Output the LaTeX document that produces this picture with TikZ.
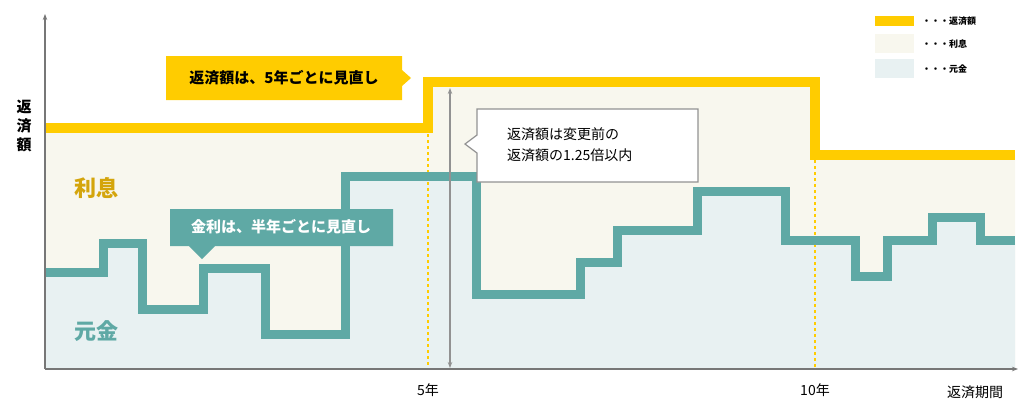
\documentclass[tikz,border=0pt]{standalone}
\usepackage{fontspec}
\newfontfamily\jp{Noto Sans CJK JP}
\usetikzlibrary{arrows.meta, positioning, calc}
\definecolor{payY}{HTML}{FFCC00}
\definecolor{rateT}{HTML}{5FA9A5}
\definecolor{intC}{HTML}{F8F7EE}
\definecolor{prinB}{HTML}{E8F1F2}
\definecolor{intTxt}{HTML}{D4A50C}
\definecolor{axisG}{HTML}{777777}
\tikzset{
    axis/.style={draw=axisG, line width=1.6pt},
    payline/.style={draw=payY, line width=10pt},
    rateline/.style={draw=rateT, line width=9pt},
    guide/.style={draw=payY, dashed, line width=1.2pt},
    lbl/.style={font=\jp\bfseries, inner sep=0pt},
}

\begin{document}
\begin{tikzpicture}[x=1pt, y=-1pt]
    \useasboundingbox (0,0) rectangle (1032,416);

    \coordinate (o) at (45,369);
    \coordinate (ytop) at (45,14);
    \coordinate (xend) at (1018,369);

    % areas
    \fill[intC] (45,128) -| (428,82) -| (815,155) -| (1015,369) -- (o) -- cycle;
    \fill[prinB] (45,272) -| (103,243) -| (142,309) -| (203,268) -| (265,334)
        -| (345,176) -| (476,294) -| (580,262) -| (617,230) -| (697,191)
        -| (785,240) -| (855,276) -| (887,240) -| (932,217) -| (980,240)
        -- (1015,240) -- (1015,369) -- (o) -- cycle;

    % guides
    \coordinate (g5) at (428,369);
    \coordinate (g10) at (815,369);
    \draw[guide] (428,86) -- (g5);
    \draw[guide] (815,160) -- (g10);

    % step lines
    \draw[rateline] (45,272) -| (103,243) -| (142,309) -| (203,268) -| (265,334)
        -| (345,176) -| (476,294) -| (580,262) -| (617,230) -| (697,191)
        -| (785,240) -| (855,276) -| (887,240) -| (932,217) -| (980,240)
        -- (1015,240);
    \draw[payline] (45,128) -| (428,82) -| (815,155) -- (1015,155);

    % axes
    \draw[axis, -{Stealth[length=6pt]}] (o) -- (ytop);
    \draw[axis, -{Stealth[length=6pt]}] (o) -- (xend);

    % change range
    \coordinate (up) at (450,88);
    \coordinate (dn) at (450,368);
    \draw[draw=axisG!80, line width=1.2pt, {Stealth[length=6pt]}-{Stealth[length=6pt]}] (dn) -- (up);

    % callouts
    \fill[payY] (166,56) -- (402,56) -- (402,70) -- (411,78) -- (402,86) -- (402,100) -- (166,100) -- cycle;
    \node[lbl, font=\jp\bfseries\fontsize{15}{15}\selectfont] (c5) at (284,78) {返済額は、5年ごとに見直し};

    \filldraw[fill=white, draw=axisG!80, line width=1.2pt] (477,109) -- (698,109) -- (698,182) -- (477,182)
        -- (477,153) -- (465,144) -- (477,135) -- cycle;
    \node[lbl, font=\jp\fontsize{14}{21}\selectfont, align=left, anchor=west] (c125) at (507,145)
        {返済額は変更前の\\返済額の1.25倍以内};

    \fill[rateT] (170,209) -- (393,209) -- (393,246) -- (215,246) -- (202,259) -- (189,246) -- (170,246) -- cycle;
    \node[lbl, white, font=\jp\bfseries\fontsize{15}{15}\selectfont] (chalf) at (281,227) {金利は、半年ごとに見直し};

    % labels
    \node[lbl, intTxt, font=\jp\bfseries\fontsize{22}{22}\selectfont] (lint) at (96,188) {利息};
    \node[lbl, rateT, font=\jp\bfseries\fontsize{22}{22}\selectfont] (lprin) at (96,331) {元金};
    \node[lbl, font=\jp\bfseries\fontsize{15}{19}\selectfont, align=center] (lpay) at (24,126) {返\\済\\額};
    \node[lbl, font=\jp\fontsize{14}{14}\selectfont, below=14pt of g5] (l5) {5年};
    \node[lbl, font=\jp\fontsize{14}{14}\selectfont, below=14pt of g10] (l10) {10年};
    \node[lbl, font=\jp\fontsize{14}{14}\selectfont] (lterm) at (975,392) {返済期間};

    % legend
    \fill[payY] (875,16) rectangle (914,26);
    \fill[intC] (875,34) rectangle (914,53);
    \fill[prinB] (875,59) rectangle (914,78);
    \node[lbl, font=\jp\bfseries\fontsize{9}{9}\selectfont, anchor=west] (kpay) at (922,21) {・・・返済額};
    \node[lbl, font=\jp\bfseries\fontsize{9}{9}\selectfont, anchor=west] (kint) at (922,44) {・・・利息};
    \node[lbl, font=\jp\bfseries\fontsize{9}{9}\selectfont, anchor=west] (kprin) at (922,69) {・・・元金};
\end{tikzpicture}
\end{document}
